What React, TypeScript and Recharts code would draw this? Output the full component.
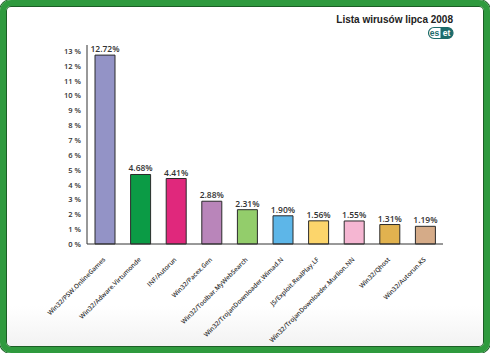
import React from 'react'
import { BarChart, Bar, XAxis, YAxis, Cell, LabelList, Customized } from 'recharts'

const names = [
  'Win32/PSW.OnlineGames',
  'Win32/Adware.Virtumonde',
  'INF/Autorun',
  'Win32/Pacex.Gen',
  'Win32/Toolbar.MyWebSearch',
  'Win32/TrojanDownloader.Wimad.N',
  'JS/Exploit.RealPlay.LF',
  'Win32/TrojanDownloader.Murlion.NN',
  'Win32/Qhost',
  'Win32/Autorun.KS',
]
const shares = [12.72, 4.68, 4.41, 2.88, 2.31, 1.9, 1.56, 1.55, 1.31, 1.19]
const barColors = ['#9393c6', '#0b9b45', '#e0287c', '#b985ba', '#93cd6b', '#5db6e8', '#fcd56b', '#f5b6d2', '#e1b24f', '#d5ab88']
const yTicks = [0, 1, 2, 3, 4, 5, 6, 7, 8, 9, 10, 11, 12, 13]

const data = names.map((name, i) => ({ name, value: shares[i] }))

const font = '"Open Sans", "Noto Sans", sans-serif'

const XTick = ({ x, y, payload }: any) => (
  <text
    x={x + 1}
    y={y + 8}
    transform={`rotate(-45, ${x + 1}, ${y + 8})`}
    textAnchor="end"
    fontSize={6.4}
    fontWeight={600}
    fontFamily={font}
    fill="#333"
  >
    {payload.value}
  </text>
)

const YTick = ({ x, y, payload }: any) => (
  <text x={x} y={y} dy={3} textAnchor="end" fontSize={7.5} fontWeight={600} fontFamily={font} fill="#333">
    {payload.value} %
  </text>
)

const Header = () => (
  <g>
    <text x={453} y={23} textAnchor="end" fontSize={10} fontWeight="bold" fontFamily='"Liberation Sans", Arial, sans-serif' fill="#222">
      Lista wirusów lipca 2008
    </text>
    <rect x={428.5} y={27.5} width={24.5} height={11} rx={5.5} fill="#fff" stroke="#1d6b6b" strokeWidth={1.2} />
    <path d="M440.5 27.5 H447.5 A5.5 5.5 0 0 1 447.5 38.5 H440.5 Z" fill="#1d6b6b" />
    <text x={434.5} y={36} textAnchor="middle" fontSize={8.5} fontWeight="bold" fontFamily='"Liberation Sans", Arial, sans-serif' fill="#1d6b6b">es</text>
    <text x={446.5} y={36} textAnchor="middle" fontSize={8.5} fontWeight="bold" fontFamily='"Liberation Sans", Arial, sans-serif' fill="#fff">et</text>
  </g>
)

export default function App() {
  return (
    <div
      style={{
        position: 'absolute',
        left: 0,
        top: 0,
        width: 490,
        height: 353,
        boxSizing: 'border-box',
        border: '6px solid #2f9a3e',
        borderRadius: 11,
        boxShadow: 'inset 0 0 0 1px #1b5e25, 0 0 0 1px #1b5e25',
        background: 'linear-gradient(#ffffff 0%, #ffffff 88%, #f2f2f2 100%)',
        overflow: 'hidden',
      }}
    >
      <div style={{ position: 'absolute', left: -6, top: -6 }}>
        <BarChart
          width={490}
          height={353}
          data={data}
          margin={{ top: 45, right: 47, left: 47, bottom: 9 }}
          barSize={20}
        >
          <XAxis
            dataKey="name"
            interval={0}
            height={100}
            tick={<XTick />}
            tickLine={false}
            axisLine={{ stroke: '#333', strokeWidth: 1 }}
          />
          <YAxis
            width={40}
            domain={[0, 13.4]}
            ticks={yTicks}
            interval={0}
            tickSize={0}
            tickMargin={6}
            tickLine={false}
            tick={<YTick />}
            axisLine={{ stroke: '#333', strokeWidth: 1 }}
          />
          <Bar dataKey="value" stroke="#2a2a2a" strokeWidth={1} isAnimationActive={false}>
            {data.map((d, i) => (
              <Cell key={d.name} fill={barColors[i]} />
            ))}
            <LabelList
              dataKey="value"
              position="top"
              offset={3}
              formatter={(v: any) => `${Number(v).toFixed(2)}%`}
              style={{ fontSize: 8.5, fontWeight: 600, fontFamily: font, fill: '#333' }}
            />
          </Bar>
          <Customized component={<Header />} />
        </BarChart>
      </div>
    </div>
  )
}
